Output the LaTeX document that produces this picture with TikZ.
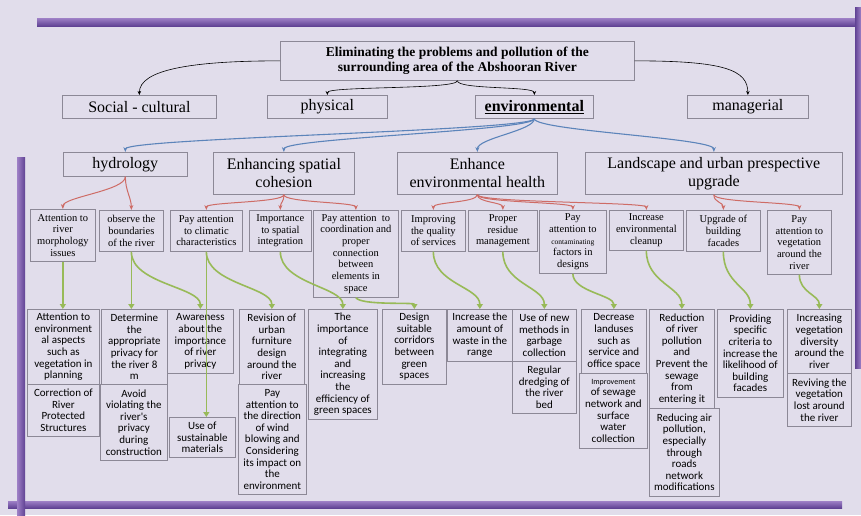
\documentclass[tikz,border=0pt]{standalone}
\usepackage{fontspec}
\setmainfont{Liberation Serif}
\newfontfamily\calibrifont{Carlito}
\usetikzlibrary{arrows.meta}

\definecolor{paper}{RGB}{225,221,235}
\definecolor{barDark}{RGB}{96,66,148}
\definecolor{barLight}{RGB}{158,128,198}
\definecolor{edgegray}{RGB}{140,136,150}
\definecolor{linkblue}{RGB}{92,132,186}
\definecolor{linkred}{RGB}{206,108,102}
\definecolor{linkgreen}{RGB}{152,186,88}

\begin{document}
\begin{tikzpicture}[x=1pt, y=-1pt,
    box/.style={draw=edgegray, line width=0.7pt, anchor=north west, align=center, inner xsep=2pt, inner ysep=1pt},
    titlebox/.style={box, font=\bfseries\fontsize{13.5}{15}\selectfont},
    aspectbox/.style={box, font=\fontsize{16}{18}\selectfont},
    themebox/.style={box, font=\fontsize{16}{18}\selectfont},
    goalbox/.style={box, font=\fontsize{10.5}{11.7}\selectfont},
    actionbox/.style={box, font=\calibrifont\fontsize{11}{11.6}\selectfont},
    blackarrow/.style={-{Stealth[length=4pt, width=3.5pt]}, line width=0.6pt},
    bluearrow/.style={-{Stealth[length=5pt, width=4pt]}, draw=linkblue, line width=1.1pt},
    redarrow/.style={-{Stealth[length=5pt, width=4pt]}, draw=linkred, line width=1pt},
    greenarrow/.style={-{Triangle[length=5pt, width=6pt]}, draw=linkgreen, line width=1.6pt}]

    % background and frame bars
    \fill[paper] (0,0) rectangle (861,515);
    \shade[top color=barLight, bottom color=barDark] (37,18) rectangle (857,26);
    \shade[left color=barDark, right color=barLight] (855,7) rectangle (861,368);
    \shade[top color=barLight, bottom color=barDark] (8,501) rectangle (842,508);
    \shade[left color=barLight, right color=barDark] (17,157) rectangle (25,515);

    % goal
    \node[titlebox, minimum width=354, minimum height=39] (title) at (280,41) {Eliminating the problems and pollution of the\\surrounding area of the Abshooran River};

    % aspects
    \node[aspectbox, minimum width=154, minimum height=23] (social) at (62,95) {Social - cultural};
    \node[aspectbox, minimum width=120, minimum height=23] (physical) at (267,95) {physical};
    \node[aspectbox, minimum width=118, minimum height=23, font=\bfseries\fontsize{16}{18}\selectfont] (environ) at (475,95) {\underline{environmental}};
    \node[aspectbox, minimum width=121, minimum height=23] (managerial) at (687,95) {managerial};

    % themes
    \node[themebox, minimum width=124, minimum height=24] (hydrology) at (63,152) {hydrology};
    \node[themebox, minimum width=141, minimum height=42] (cohesion) at (213,152) {Enhancing spatial\\cohesion};
    \node[themebox, minimum width=160, minimum height=42] (health) at (397,152) {Enhance\\environmental health};
    \node[themebox, minimum width=257, minimum height=42] (landscape) at (585,152) {Landscape and urban prespective\\upgrade};

    % sub goals
    \node[goalbox, minimum width=65, minimum height=52] (morphology) at (30,209) {Attention to\\river\\morphology\\issues};
    \node[goalbox, minimum width=64, minimum height=41] (boundaries) at (99,210) {observe the\\boundaries\\of the river};
    \node[goalbox, minimum width=72, minimum height=41] (climate) at (170,210) {Pay attention\\to climatic\\characteristics};
    \node[goalbox, minimum width=62, minimum height=41] (integration) at (249,210) {Importance\\to spatial\\integration};
    \node[goalbox, minimum width=85, minimum height=87] (coordination) at (313,210) {Pay attention\ \ to\\coordination and\\proper\\connection\\between\\elements in\\space};
    \node[goalbox, minimum width=64, minimum height=41] (services) at (401,210) {Improving\\the quality\\of services};
    \node[goalbox, minimum width=69, minimum height=41] (residue) at (468,210) {Proper\\residue\\management};
    \node[goalbox, minimum width=67, minimum height=63] (contamination) at (539,210) {Pay\\attention to\\{\fontsize{7.5}{11.7}\selectfont contaminating}\\factors in\\designs};
    \node[goalbox, minimum width=74, minimum height=40] (cleanup) at (609,210) {Increase\\environmental\\cleanup};
    \node[goalbox, minimum width=74, minimum height=41] (facades) at (686,210) {Upgrade of\\building\\facades};
    \node[goalbox, minimum width=64, minimum height=64] (vegetation) at (767,210) {Pay\\attention to\\vegetation\\around the\\river};

    % actions
    \node[actionbox, minimum width=72, minimum height=75] (envaspects) at (27,309) {Attention to\\environment\\al aspects\\such as\\vegetation in\\planning};
    \node[actionbox, minimum width=72, minimum height=52] (correction) at (27,384) {Correction of\\River\\Protected\\Structures};
    \node[actionbox, minimum width=66, minimum height=75] (privacy) at (101,309) {Determine\\the\\appropriate\\privacy for\\the river 8\\m};
    \node[actionbox, minimum width=67, minimum height=76] (violation) at (100,384) {Avoid\\violating the\\river's\\privacy\\during\\construction};
    \node[actionbox, minimum width=66, minimum height=64] (awareness) at (167,309) {Awareness\\about the\\importance\\of river\\privacy};
    \node[actionbox, minimum width=66, minimum height=40] (materials) at (169,417) {Use of\\sustainable\\materials};
    \node[actionbox, minimum width=65, minimum height=75] (furniture) at (239,309) {Revision of\\urban\\furniture\\design\\around the\\river};
    \node[actionbox, minimum width=68, minimum height=110] (wind) at (238,384) {Pay\\attention to\\the direction\\of wind\\blowing and\\Considering\\its impact on\\the\\environment};
    \node[actionbox, minimum width=69, minimum height=110] (greenspaces) at (308,309) {The\\importance\\of\\integrating\\and\\increasing\\the\\efficiency of\\green spaces};
    \node[actionbox, minimum width=64, minimum height=75] (corridors) at (382,309) {Design\\suitable\\corridors\\between\\green\\spaces};
    \node[actionbox, minimum width=65, minimum height=52] (waste) at (447,309) {Increase the\\amount of\\waste in the\\range};
    \node[actionbox, minimum width=64, minimum height=52] (garbage) at (512,309) {Use of new\\methods in\\garbage\\collection};
    \node[actionbox, minimum width=64, minimum height=52] (dredging) at (512,361) {Regular\\dredging of\\the river\\bed};
    \node[actionbox, minimum width=65, minimum height=64] (landuse) at (581,309) {Decrease\\landuses\\such as\\service and\\office space};
    \node[actionbox, minimum width=68, minimum height=75] (sewage) at (579,373) {{\fontsize{8}{11.6}\selectfont Improvement}\\of sewage\\network and\\surface\\water\\collection};
    \node[actionbox, minimum width=65, minimum height=99] (pollution) at (649,309) {Reduction\\of river\\pollution\\and\\Prevent the\\sewage\\from\\entering it};
    \node[actionbox, minimum width=70, minimum height=88] (airpollution) at (649,408) {Reducing air\\pollution,\\especially\\through\\roads\\network\\modifications};
    \node[actionbox, minimum width=66, minimum height=88] (criteria) at (717,309) {Providing\\specific\\criteria to\\increase the\\likelihood of\\building\\facades};
    \node[actionbox, minimum width=64, minimum height=64] (diversity) at (787,309) {Increasing\\vegetation\\diversity\\around the\\river};
    \node[actionbox, minimum width=64, minimum height=53] (reviving) at (787,373) {Reviving the\\vegetation\\lost around\\the river};

    % goal to aspects
    \draw[blackarrow] (title.south) .. controls +(0,9) and +(0,-9) .. (physical.north);
    \draw[blackarrow] (title.south) .. controls +(0,9) and +(0,-9) .. (environ.north);
    \draw[blackarrow] (title.west) .. controls +(-90,0) and +(0,-25) .. (social.north);
    \draw[blackarrow] (title.east) .. controls +(90,0) and +(0,-25) .. (managerial.north);

    % environmental to themes
    \draw[bluearrow] (environ.south) .. controls +(0,12) and +(0,-14) .. (hydrology.north);
    \draw[bluearrow] (environ.south) .. controls +(0,12) and +(0,-14) .. (cohesion.north);
    \draw[bluearrow] (environ.south) .. controls +(0,12) and +(0,-14) .. (health.north);
    \draw[bluearrow] (environ.south) .. controls +(0,12) and +(0,-14) .. (landscape.north);

    % themes to sub goals
    \draw[redarrow] (hydrology.south) .. controls +(0,14) and +(0,-12) .. (morphology.north);
    \draw[redarrow] (hydrology.south) .. controls +(0,14) and +(0,-12) .. (boundaries.north);
    \draw[redarrow] (cohesion.south) .. controls +(0,8) and +(0,-8) .. (climate.north);
    \draw[redarrow] (cohesion.south) .. controls +(0,8) and +(0,-8) .. (integration.north);
    \draw[redarrow] (cohesion.south) .. controls +(0,8) and +(0,-8) .. (coordination.north);
    \draw[redarrow] (health.south) .. controls +(0,8) and +(0,-8) .. (services.north);
    \draw[redarrow] (health.south) .. controls +(0,8) and +(0,-8) .. (residue.north);
    \draw[redarrow] (health.south) .. controls +(0,8) and +(0,-8) .. (contamination.north);
    \draw[redarrow] (health.south) .. controls +(0,8) and +(0,-8) .. (cleanup.north);
    \draw[redarrow] (landscape.south) .. controls +(0,8) and +(0,-8) .. (facades.north);
    \draw[redarrow] (landscape.south) .. controls +(0,8) and +(0,-8) .. (vegetation.north);

    % sub goals to actions
    \draw[greenarrow] (morphology.south) -- (morphology.south |- envaspects.north);
    \draw[greenarrow] (boundaries.south) -- (boundaries.south |- privacy.north);
    \draw[greenarrow] (boundaries.south) .. controls +(0,32) and +(0,-22) .. (awareness.north);
    \draw[greenarrow] (climate.south) -- (climate.south |- materials.north);
    \draw[greenarrow] (climate.south) .. controls +(0,32) and +(0,-22) .. (furniture.north);
    \draw[greenarrow] (integration.south) .. controls +(0,32) and +(0,-22) .. (greenspaces.north);
    \draw[greenarrow] (coordination.south) .. controls +(6,8) and +(0,-7) .. (corridors.north);
    \draw[greenarrow] (services.south) .. controls +(0,32) and +(0,-22) .. (waste.north);
    \draw[greenarrow] (residue.south) .. controls +(0,32) and +(0,-22) .. (garbage.north);
    \draw[greenarrow] (contamination.south) .. controls +(0,18) and +(0,-14) .. (landuse.north);
    \draw[greenarrow] (cleanup.south) .. controls +(0,32) and +(0,-22) .. (pollution.north);
    \draw[greenarrow] (facades.south) .. controls +(0,32) and +(0,-22) .. (criteria.north);
    \draw[greenarrow] (vegetation.south) .. controls +(0,18) and +(0,-14) .. (diversity.north);

\end{tikzpicture}
\end{document}
